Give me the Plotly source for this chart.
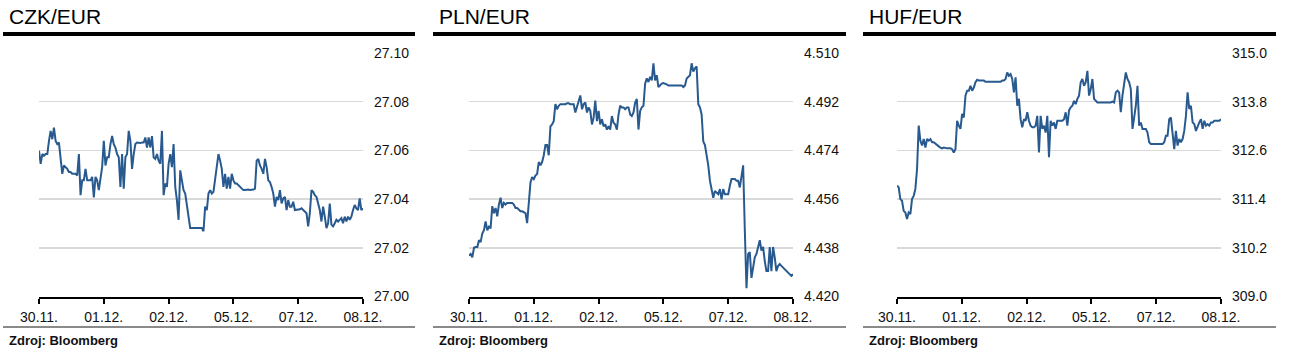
import numpy as np
import plotly.graph_objects as go

# ---------------- data ----------------
titles = ["CZK/EUR", "PLN/EUR", "HUF/EUR"]
date_labels = ["30.11.", "01.12.", "02.12.", "05.12.", "07.12.", "08.12."]
source_text = "Zdroj: Bloomberg"

czk_ticks = [27.00, 27.02, 27.04, 27.06, 27.08, 27.10]
pln_ticks = [4.420, 4.438, 4.456, 4.474, 4.492, 4.510]
huf_ticks = [309.0, 310.2, 311.4, 312.6, 313.8, 315.0]

czk = [27.0599, 27.0545, 27.0585, 27.0578, 27.0585, 27.0585, 27.0639, 27.0680, 27.0646, 27.0693,
       27.0639, 27.0626, 27.0632, 27.0558, 27.0504, 27.0538, 27.0531, 27.0524, 27.0511, 27.0511,
       27.0504, 27.0504, 27.0504, 27.0497, 27.0585, 27.0416, 27.0477, 27.0477, 27.0524, 27.0477,
       27.0477, 27.0477, 27.0491, 27.0407, 27.0491, 27.0477, 27.0437, 27.0497, 27.0531, 27.0639,
       27.0538, 27.0572, 27.0572, 27.0626, 27.0659, 27.0626, 27.0612, 27.0585, 27.0572, 27.0450,
       27.0585, 27.0443, 27.0572, 27.0585, 27.0680, 27.0639, 27.0524, 27.0585, 27.0626, 27.0632,
       27.0630, 27.0630, 27.0632, 27.0632, 27.0653, 27.0612, 27.0653, 27.0612, 27.0659, 27.0572,
       27.0565, 27.0585, 27.0558, 27.0545, 27.0680, 27.0416, 27.0464, 27.0450, 27.0545, 27.0585,
       27.0531, 27.0626, 27.0450, 27.0396, 27.0315, 27.0518, 27.0477, 27.0437, 27.0423, 27.0369,
       27.0315, 27.0281, 27.0281, 27.0281, 27.0281, 27.0281, 27.0281, 27.0281, 27.0281, 27.0268,
       27.0369, 27.0355, 27.0423, 27.0437, 27.0423, 27.0430, 27.0477, 27.0545, 27.0585, 27.0558,
       27.0524, 27.0450, 27.0504, 27.0443, 27.0491, 27.0443, 27.0504, 27.0477, 27.0464, 27.0464,
       27.0457, 27.0450, 27.0443, 27.0437, 27.0437, 27.0439, 27.0439, 27.0437, 27.0437, 27.0439,
       27.0443, 27.0558, 27.0565, 27.0538, 27.0524, 27.0504, 27.0565, 27.0531, 27.0477, 27.0470,
       27.0450, 27.0423, 27.0369, 27.0409, 27.0396, 27.0437, 27.0382, 27.0403, 27.0409, 27.0355,
       27.0396, 27.0369, 27.0369, 27.0389, 27.0355, 27.0355, 27.0355, 27.0358, 27.0362, 27.0355,
       27.0349, 27.0342, 27.0288, 27.0342, 27.0437, 27.0430, 27.0416, 27.0409, 27.0382, 27.0355,
       27.0308, 27.0369, 27.0328, 27.0281, 27.0301, 27.0382, 27.0295, 27.0288, 27.0301, 27.0315,
       27.0308, 27.0315, 27.0322, 27.0301, 27.0328, 27.0308, 27.0328, 27.0315, 27.0328, 27.0355,
       27.0376, 27.0362, 27.0355, 27.0403, 27.0355, 27.0362]

pln = [4.4351, 4.4357, 4.4345, 4.4380, 4.4383, 4.4383, 4.4408, 4.4401, 4.4433, 4.4445,
       4.4477, 4.4445, 4.4458, 4.4452, 4.4534, 4.4508, 4.4527, 4.4496, 4.4540, 4.4565,
       4.4527, 4.4546, 4.4540, 4.4546, 4.4546, 4.4546, 4.4546, 4.4540, 4.4527, 4.4527,
       4.4521, 4.4515, 4.4515, 4.4511, 4.4508, 4.4471, 4.4559, 4.4622, 4.4641, 4.4634,
       4.4647, 4.4653, 4.4697, 4.4685, 4.4697, 4.4722, 4.4760, 4.4760, 4.4722, 4.4829,
       4.4836, 4.4848, 4.4911, 4.4892, 4.4905, 4.4911, 4.4911, 4.4911, 4.4911, 4.4914,
       4.4914, 4.4911, 4.4911, 4.4911, 4.4880, 4.4899, 4.4924, 4.4943, 4.4892, 4.4911,
       4.4917, 4.4880, 4.4899, 4.4886, 4.4836, 4.4861, 4.4924, 4.4848, 4.4886, 4.4836,
       4.4855, 4.4829, 4.4836, 4.4817, 4.4829, 4.4817, 4.4867, 4.4842, 4.4836, 4.4817,
       4.4873, 4.4905, 4.4899, 4.4899, 4.4892, 4.4899, 4.4899, 4.4873, 4.4867, 4.4880,
       4.4917, 4.4930, 4.4817, 4.4886, 4.4899, 4.4905, 4.4987, 4.5006, 4.4993, 4.5012,
       4.4999, 4.5062, 4.4999, 4.5018, 4.4974, 4.4980, 4.4987, 4.4989, 4.4987, 4.4984,
       4.4980, 4.4980, 4.4980, 4.4980, 4.4980, 4.4978, 4.4978, 4.4980, 4.4980, 4.4974,
       4.4980, 4.5006, 4.5012, 4.5018, 4.5062, 4.5031, 4.5043, 4.5050, 4.4911, 4.4899,
       4.4873, 4.4773, 4.4760, 4.4722, 4.4685, 4.4628, 4.4597, 4.4565, 4.4590, 4.4584,
       4.4578, 4.4597, 4.4559, 4.4597, 4.4578, 4.4578, 4.4578, 4.4609, 4.4634, 4.4634,
       4.4634, 4.4628, 4.4628, 4.4603, 4.4647, 4.4685, 4.4445, 4.4231, 4.4357, 4.4364,
       4.4269, 4.4307, 4.4345, 4.4357, 4.4383, 4.4408, 4.4370, 4.4383, 4.4332, 4.4294,
       4.4294, 4.4383, 4.4294, 4.4383, 4.4345, 4.4294, 4.4313, 4.4320, 4.4313, 4.4307,
       4.4301, 4.4294, 4.4288, 4.4282, 4.4276, 4.4282]

huf = [311.73, 311.69, 311.40, 311.36, 311.11, 311.07, 310.91, 311.07, 311.03, 311.40,
       311.48, 311.65, 312.14, 313.21, 312.84, 312.72, 312.88, 312.67, 312.88, 312.84,
       312.88, 312.80, 312.80, 312.76, 312.73, 312.70, 312.67, 312.65, 312.67, 312.65,
       312.65, 312.65, 312.65, 312.63, 312.55, 312.63, 313.33, 313.21, 313.13, 313.50,
       313.41, 313.95, 314.07, 314.07, 314.19, 314.07, 314.15, 314.28, 314.34, 314.32,
       314.32, 314.32, 314.32, 314.29, 314.29, 314.28, 314.28, 314.28, 314.28, 314.28,
       314.28, 314.29, 314.29, 314.32, 314.32, 314.36, 314.52, 314.44, 314.48, 314.36,
       314.03, 314.40, 313.70, 313.87, 313.37, 313.17, 313.37, 313.33, 313.54, 313.33,
       313.21, 313.17, 313.17, 313.21, 313.45, 312.55, 313.45, 313.13, 313.21, 313.04,
       313.45, 312.43, 313.33, 313.21, 313.29, 313.13, 313.33, 313.33, 313.33, 313.33,
       313.37, 313.54, 313.21, 313.58, 313.66, 313.70, 313.82, 313.74, 313.87, 313.95,
       314.28, 314.36, 314.19, 314.28, 314.56, 313.95, 314.11, 314.36, 313.87, 313.82,
       313.78, 313.78, 313.78, 313.78, 313.78, 313.78, 313.78, 313.78, 313.78, 313.80,
       313.78, 314.03, 314.07, 314.03, 313.54, 313.95, 314.19, 314.52, 314.36, 314.28,
       314.11, 313.13, 313.41, 313.70, 314.19, 313.21, 313.29, 313.13, 313.13, 313.13,
       313.04, 312.80, 312.76, 312.76, 312.76, 312.76, 312.76, 312.76, 312.76, 312.76,
       312.80, 312.96, 312.96, 313.37, 313.41, 312.92, 312.63, 313.08, 312.72, 312.88,
       312.80, 312.88, 313.08, 313.45, 314.03, 313.62, 313.70, 313.29, 313.25, 313.08,
       313.21, 313.29, 313.37, 313.13, 313.33, 313.21, 313.25, 313.21, 313.29, 313.29,
       313.33, 313.33, 313.33, 313.33, 313.37]

series = [czk, pln, huf]
tick_sets = [czk_ticks, pln_ticks, huf_ticks]
tick_fmts = ["{:.2f}", "{:.3f}", "{:.1f}"]

# ---------------- layout geometry ----------------
W, H = 1293, 361
LINE_COLOR = "#285a8f"
FONT = "Liberation Sans, Arial, sans-serif"

panel_left = [3, 433, 863]          # px left of header rule
panel_right = [415, 846, 1276]
plot_x0 = [39, 469, 897]
plot_x1 = [363, 793, 1221]
plot_top, plot_bottom = 53, 296.5

def px_x(p):
    return p / W

def px_y(p):
    return 1 - p / H

fig = go.Figure()
shapes = []
annotations = []

for i in range(3):
    n = len(series[i])
    t = np.linspace(0, len(date_labels) - 1, n)
    sfx = "" if i == 0 else str(i + 1)
    fig.add_trace(go.Scatter(
        x=t, y=series[i], mode="lines",
        line=dict(color=LINE_COLOR, width=2),
        xaxis="x" + sfx, yaxis="y" + sfx, showlegend=False, hoverinfo="skip",
    ))
    ticks = tick_sets[i]
    fig.update_layout(**{
        "xaxis" + sfx: dict(
            domain=[px_x(plot_x0[i]), px_x(plot_x1[i])],
            anchor="y" + sfx, range=[0, len(date_labels) - 1],
            tickvals=list(range(len(date_labels))), ticktext=date_labels,
            showgrid=False, zeroline=False,
            showline=True, linecolor="#000", linewidth=2,
            ticks="outside", ticklen=5, tickwidth=2, tickcolor="#000",
            ticklabelstandoff=2,
            tickfont=dict(family=FONT, size=14, color="#111"),
            fixedrange=True, automargin=False,
        ),
        "yaxis" + sfx: dict(
            domain=[px_y(plot_bottom), px_y(plot_top)],
            anchor="x" + sfx, side="right",
            range=[ticks[0], ticks[-1]],
            tickvals=ticks, ticktext=[tick_fmts[i].format(v) for v in ticks],
            showgrid=True, gridcolor="#d9d9d9", gridwidth=1.5,
            zeroline=False, showline=False, ticks="",
            ticklabelstandoff=10,
            tickfont=dict(family=FONT, size=14, color="#111"),
            fixedrange=True, automargin=False,
        ),
    })
    # header rule
    shapes.append(dict(type="line", xref="paper", yref="paper",
                       x0=px_x(panel_left[i]), x1=px_x(panel_right[i]),
                       y0=px_y(34), y1=px_y(34),
                       line=dict(color="#000", width=4)))
    # footer rule
    shapes.append(dict(type="line", xref="paper", yref="paper",
                       x0=px_x(panel_left[i]), x1=px_x(panel_right[i]),
                       y0=px_y(327), y1=px_y(327),
                       line=dict(color="#8a8a8a", width=2)))
    annotations.append(dict(text=titles[i], xref="paper", yref="paper",
                            x=px_x(panel_left[i] + 4), y=px_y(16),
                            xanchor="left", yanchor="middle", showarrow=False,
                            font=dict(family=FONT, size=21, color="#000")))
    annotations.append(dict(text="<b>" + source_text + "</b>", xref="paper", yref="paper",
                            x=px_x(panel_left[i] + 4), y=px_y(340),
                            xanchor="left", yanchor="middle", showarrow=False,
                            font=dict(family=FONT, size=13, color="#111")))

fig.update_layout(
    width=W, height=H,
    margin=dict(l=0, r=0, t=0, b=0, pad=0, autoexpand=False),
    paper_bgcolor="#fff", plot_bgcolor="#fff",
    shapes=shapes, annotations=annotations,
)

fig.write_html(
    "out.html",
    config={"displayModeBar": False, "staticPlot": True},
    post_script="document.body.style.margin='0';document.body.style.padding='0';document.body.style.overflow='hidden';",
)
